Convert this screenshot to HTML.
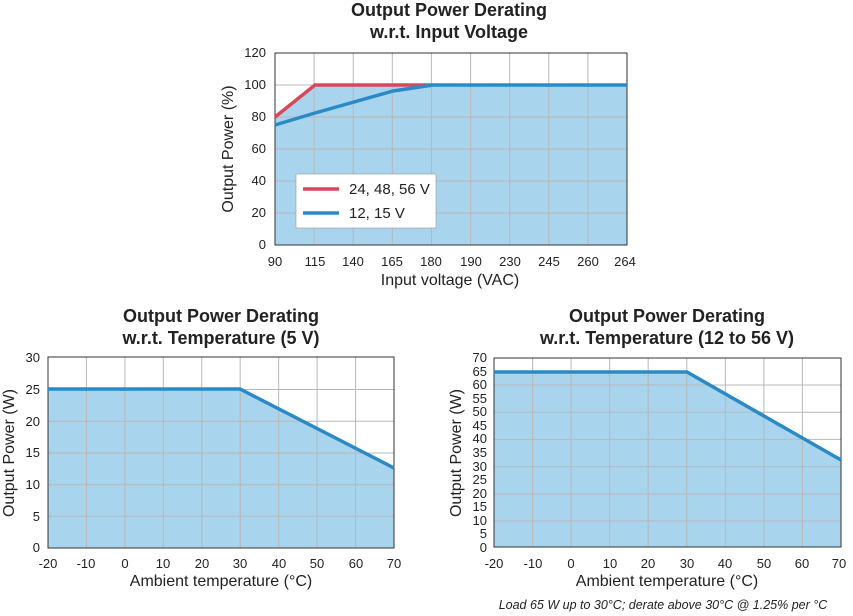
<!DOCTYPE html>
<html><head><meta charset="utf-8"><style>
html,body{margin:0;padding:0;background:#fff;}
svg{display:block;font-family:"Liberation Sans",Arial,sans-serif;}
</style></head><body>
<svg width="853" height="616" viewBox="0 0 853 616" xmlns="http://www.w3.org/2000/svg">
<!-- TOP CHART -->
<g>
<text x="449" y="16" text-anchor="middle" font-size="18" font-weight="bold" fill="#222">Output Power Derating</text>
<text x="449" y="38" text-anchor="middle" font-size="18" font-weight="bold" fill="#222">w.r.t. Input Voltage</text>
<polygon points="275,117 314,85 627,85 627,245 275,245" fill="#a8d4ee"/>
<g stroke="#b8b8b8" stroke-width="1">
<line x1="275" y1="85" x2="627" y2="85"/>
<line x1="275" y1="117" x2="627" y2="117"/>
<line x1="275" y1="149" x2="627" y2="149"/>
<line x1="275" y1="181" x2="627" y2="181"/>
<line x1="275" y1="213" x2="627" y2="213"/>
<line x1="314.1" y1="53" x2="314.1" y2="245"/>
<line x1="353.2" y1="53" x2="353.2" y2="245"/>
<line x1="392.3" y1="53" x2="392.3" y2="245"/>
<line x1="431.4" y1="53" x2="431.4" y2="245"/>
<line x1="470.6" y1="53" x2="470.6" y2="245"/>
<line x1="509.7" y1="53" x2="509.7" y2="245"/>
<line x1="548.8" y1="53" x2="548.8" y2="245"/>
<line x1="587.9" y1="53" x2="587.9" y2="245"/>
</g>
<rect x="275" y="53" width="352" height="192" fill="none" stroke="#333" stroke-width="1"/>
<polyline points="275,117 315,85 433,85" fill="none" stroke="#d9475a" stroke-width="3.5"/>
<polyline points="275,125 315,113 393,91 433,85 627,85" fill="none" stroke="#2b8ac6" stroke-width="3.5"/>
<rect x="296" y="174" width="140" height="54" fill="#fff" stroke="#999" stroke-width="0.6"/>
<line x1="303" y1="189" x2="339" y2="189" stroke="#d9475a" stroke-width="3.5"/>
<line x1="303" y1="213" x2="339" y2="213" stroke="#2b8ac6" stroke-width="3.5"/>
<text x="349" y="194" font-size="15" fill="#222">24, 48, 56 V</text>
<text x="349" y="218" font-size="15" fill="#222">12, 15 V</text>
<g font-size="13" fill="#222" text-anchor="end">
<text x="266" y="57">120</text><text x="266" y="89">100</text><text x="266" y="121">80</text>
<text x="266" y="153">60</text><text x="266" y="185">40</text><text x="266" y="217">20</text><text x="266" y="249">0</text>
</g>
<g font-size="13" fill="#222" text-anchor="middle">
<text x="275" y="266">90</text><text x="315" y="266">115</text><text x="353" y="266">140</text>
<text x="392" y="266">165</text><text x="431" y="266">180</text><text x="471" y="266">190</text>
<text x="510" y="266">230</text><text x="549" y="266">245</text><text x="588" y="266">260</text><text x="625" y="266">264</text>
</g>
<text x="450" y="285" text-anchor="middle" font-size="16" fill="#222">Input voltage (VAC)</text>
<text transform="translate(233,149) rotate(-90)" text-anchor="middle" font-size="16" fill="#222">Output Power (%)</text>
</g>

<!-- BOTTOM LEFT -->
<g>
<text x="221" y="322" text-anchor="middle" font-size="18" font-weight="bold" fill="#222">Output Power Derating</text>
<text x="221" y="344" text-anchor="middle" font-size="18" font-weight="bold" fill="#222">w.r.t. Temperature (5 V)</text>
<polygon points="48,389 240,389 394,468 394,548 48,548" fill="#a8d4ee"/>
<g stroke="#b8b8b8" stroke-width="1">
<line x1="48" y1="389.5" x2="394" y2="389.5"/>
<line x1="48" y1="421.3" x2="394" y2="421.3"/>
<line x1="48" y1="453" x2="394" y2="453"/>
<line x1="48" y1="484.7" x2="394" y2="484.7"/>
<line x1="48" y1="516.3" x2="394" y2="516.3"/>
<line x1="86.4" y1="357" x2="86.4" y2="548"/><line x1="124.9" y1="357" x2="124.9" y2="548"/>
<line x1="163.3" y1="357" x2="163.3" y2="548"/><line x1="201.8" y1="357" x2="201.8" y2="548"/>
<line x1="240.2" y1="357" x2="240.2" y2="548"/><line x1="278.7" y1="357" x2="278.7" y2="548"/>
<line x1="317.1" y1="357" x2="317.1" y2="548"/><line x1="355.6" y1="357" x2="355.6" y2="548"/>
</g>
<rect x="48" y="357" width="346" height="191" fill="none" stroke="#333" stroke-width="1"/>
<polyline points="48,389 240,389 394,468" fill="none" stroke="#2b8ac6" stroke-width="3.5"/>
<g font-size="13" fill="#222" text-anchor="end">
<text x="40" y="362">30</text><text x="40" y="394">25</text><text x="40" y="426">20</text>
<text x="40" y="457">15</text><text x="40" y="489">10</text><text x="40" y="521">5</text><text x="40" y="552">0</text>
</g>
<g font-size="13" fill="#222" text-anchor="middle">
<text x="48" y="568">-20</text><text x="86" y="568">-10</text><text x="125" y="568">0</text>
<text x="163" y="568">10</text><text x="202" y="568">20</text><text x="240" y="568">30</text>
<text x="279" y="568">40</text><text x="317" y="568">50</text><text x="356" y="568">60</text><text x="394" y="568">70</text>
</g>
<text x="221" y="586" text-anchor="middle" font-size="16" fill="#222">Ambient temperature (°C)</text>
<text transform="translate(14,453) rotate(-90)" text-anchor="middle" font-size="16" fill="#222">Output Power (W)</text>
</g>

<!-- BOTTOM RIGHT -->
<g>
<text x="667" y="322" text-anchor="middle" font-size="18" font-weight="bold" fill="#222">Output Power Derating</text>
<text x="667" y="344" text-anchor="middle" font-size="18" font-weight="bold" fill="#222">w.r.t. Temperature (12 to 56 V)</text>
<polygon points="494,372 687,372 841,460 841,547 494,547" fill="#a8d4ee"/>
<g stroke="#b8b8b8" stroke-width="1">
<line x1="494" y1="385" x2="841" y2="385"/><line x1="494" y1="412.3" x2="841" y2="412.3"/>
<line x1="494" y1="439.4" x2="841" y2="439.4"/><line x1="494" y1="466.7" x2="841" y2="466.7"/>
<line x1="494" y1="494" x2="841" y2="494"/><line x1="494" y1="521" x2="841" y2="521"/>
<line x1="532.6" y1="358" x2="532.6" y2="547"/><line x1="571.1" y1="358" x2="571.1" y2="547"/>
<line x1="609.7" y1="358" x2="609.7" y2="547"/><line x1="648.2" y1="358" x2="648.2" y2="547"/>
<line x1="686.8" y1="358" x2="686.8" y2="547"/><line x1="725.3" y1="358" x2="725.3" y2="547"/>
<line x1="763.9" y1="358" x2="763.9" y2="547"/><line x1="802.4" y1="358" x2="802.4" y2="547"/>
</g>
<rect x="494" y="358" width="347" height="189" fill="none" stroke="#333" stroke-width="1"/>
<polyline points="494,372 687,372 841,460" fill="none" stroke="#2b8ac6" stroke-width="3.5"/>
<g font-size="13" fill="#222" text-anchor="end">
<text x="487" y="362">70</text><text x="487" y="376">65</text><text x="487" y="389">60</text>
<text x="487" y="403">55</text><text x="487" y="416">50</text><text x="487" y="430">45</text>
<text x="487" y="443">40</text><text x="487" y="457">35</text><text x="487" y="471">30</text>
<text x="487" y="484">25</text><text x="487" y="498">20</text><text x="487" y="511">15</text>
<text x="487" y="525">10</text><text x="487" y="538">5</text><text x="487" y="552">0</text>
</g>
<g font-size="13" fill="#222" text-anchor="middle">
<text x="494" y="568">-20</text><text x="533" y="568">-10</text><text x="571" y="568">0</text>
<text x="610" y="568">10</text><text x="648" y="568">20</text><text x="687" y="568">30</text>
<text x="725" y="568">40</text><text x="764" y="568">50</text><text x="802" y="568">60</text><text x="839" y="568">70</text>
</g>
<text x="667" y="586" text-anchor="middle" font-size="16" fill="#222">Ambient temperature (°C)</text>
<text transform="translate(461,453) rotate(-90)" text-anchor="middle" font-size="16" fill="#222">Output Power (W)</text>
<text x="663" y="609" text-anchor="middle" font-size="12.5" font-style="italic" fill="#222">Load 65 W up to 30°C; derate above 30°C @ 1.25% per °C</text>
</g>
</svg>
</body></html>
